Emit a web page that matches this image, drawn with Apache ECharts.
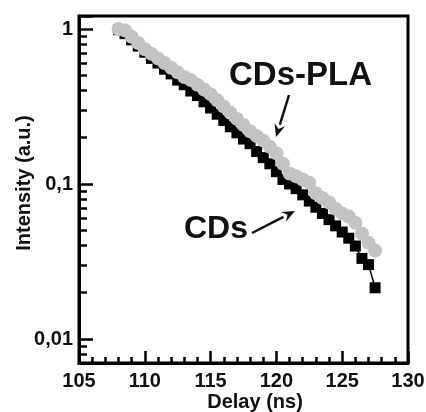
<!DOCTYPE html>
<html><head><meta charset="utf-8">
<script src="https://cdn.jsdelivr.net/npm/echarts@6/dist/echarts.min.js"></script>
<style>html,body{margin:0;padding:0;background:#fff}#c{width:426px;height:412px}</style>
</head><body><div id="c"></div>
<script>
// Delay (ns)
const delay = [108,108.5,109,109.5,110,110.5,111,111.5,112,112.5,113,113.5,114,114.5,115,115.5,116,116.5,117,117.5,118,118.5,119,119.5,120,120.5,121,121.5,122,122.5,123,123.5,124,124.5,125,125.5,126,126.5,127,127.5];
// CDs-PLA (grey circles)
const cdsPla = [1.00,0.977,0.891,0.813,0.741,0.692,0.646,0.603,0.562,0.525,0.490,0.468,0.437,0.407,0.380,0.347,0.316,0.288,0.263,0.240,0.219,0.204,0.191,0.174,0.158,0.135,0.117,0.112,0.107,0.102,0.0871,0.0813,0.0759,0.0692,0.0646,0.0617,0.0562,0.0479,0.0417,0.0372];
// CDs (black squares)
const cds = [0.99,0.933,0.851,0.776,0.708,0.646,0.603,0.550,0.513,0.468,0.437,0.398,0.372,0.339,0.309,0.282,0.257,0.234,0.214,0.195,0.182,0.162,0.148,0.135,0.120,0.107,0.100,0.0933,0.0851,0.0776,0.0708,0.0646,0.0589,0.0537,0.0490,0.0447,0.0398,0.0331,0.0302,0.0214];
const yMajorTicks = [0.01, 0.1, 1];
const yMinorTicks = [0.008,0.009,0.02,0.03,0.04,0.05,0.06,0.07,0.08,0.09,0.2,0.3,0.4,0.5,0.6,0.7,0.8,0.9];
const xTitle = 'Delay (ns)';
const yTitle = 'Intensity (a.u.)';
const labelPla = 'CDs-PLA';
const labelCds = 'CDs';

const FONT = 'Liberation Sans, Arial, sans-serif';
const TXT = '#111';
const chart = echarts.init(document.getElementById('c'), null, {renderer: 'canvas'});

function arrow(x1, y1, x2, y2) {
  const a = Math.atan2(y2 - y1, x2 - x1), L = 13, W = 5.5;
  const bx = x2 - L * Math.cos(a), by = y2 - L * Math.sin(a);
  const px = -Math.sin(a) * W, py = Math.cos(a) * W;
  return [
    {type: 'line', shape: {x1: x1, y1: y1, x2: bx, y2: by}, style: {stroke: '#111', lineWidth: 2.5}, z: 10},
    {type: 'polygon', shape: {points: [[x2, y2], [bx + px, by + py], [bx + 0.35*L*Math.cos(a), by + 0.35*L*Math.sin(a)], [bx - px, by - py]]}, style: {fill: '#111'}, z: 10}
  ];
}

chart.setOption({
  animation: false,
  grid: {left: 79, right: 18, top: 16, bottom: 49, outerBoundsMode: 'none', containLabel: false,
    show: true, borderColor: '#000', borderWidth: 3, backgroundColor: 'transparent'},
  xAxis: {
    type: 'value', min: 105, max: 130, interval: 5,
    name: xTitle, nameLocation: 'middle', nameGap: 29, nameMoveOverlap: false,
    nameTextStyle: {fontFamily: FONT, fontWeight: 'bold', fontSize: 20, color: TXT, padding: [0, 0, 0, 23]},
    axisLine: {show: true, lineStyle: {color: '#000', width: 3}},
    axisTick: {show: true, inside: true, length: 12, lineStyle: {color: '#000', width: 2.5}},
    minorTick: {show: true, splitNumber: 5, length: 6, lineStyle: {color: '#000', width: 2.5}},
    axisLabel: {fontFamily: FONT, fontWeight: 'bold', fontSize: 20, color: TXT, margin: 8},
    splitLine: {show: false}
  },
  yAxis: [{
    type: 'log', logBase: 10, min: 0.007, max: 1.213,
    name: yTitle, nameLocation: 'middle', nameGap: 45, nameRotate: 90, nameMoveOverlap: false,
    nameTextStyle: {fontFamily: FONT, fontWeight: 'bold', fontSize: 20, color: TXT, padding: [0, 0, 0, 13]},
    axisLine: {show: true, lineStyle: {color: '#000', width: 3}},
    axisTick: {show: true, inside: true, length: 14, lineStyle: {color: '#000', width: 2.5}},
    axisLabel: {fontFamily: FONT, fontWeight: 'bold', fontSize: 20, color: TXT, margin: 6, customValues: yMajorTicks,
      formatter: v => String(v).replace('.', ',')},
    splitLine: {show: false}
  }, {
    type: 'log', logBase: 10, min: 0.007, max: 1.213, position: 'left',
    axisLine: {show: false},
    axisTick: {show: true, inside: true, length: 8, customValues: yMinorTicks, lineStyle: {color: '#000', width: 2.5}},
    axisLabel: {show: false},
    splitLine: {show: false}
  }],
  series: [{
    name: labelCds, type: 'line', data: delay.map((d, i) => [d, cds[i]]),
    symbol: 'rect', symbolSize: 11, showAllSymbol: true,
    itemStyle: {color: '#000'}, lineStyle: {color: '#000', width: 1.5}, z: 2
  }, {
    name: labelPla, type: 'scatter', data: delay.map((d, i) => [d, cdsPla[i]]),
    symbol: 'circle', symbolSize: 14, itemStyle: {color: '#c3c3c3', opacity: 1}, z: 3
  }],
  graphic: [
    {type: 'text', left: 229, top: 59, z: 10, style: {text: labelPla, font: 'bold 33px ' + FONT, fill: TXT}},
    {type: 'text', left: 184, top: 213, z: 10, style: {text: labelCds, font: 'bold 32px ' + FONT, fill: TXT}},
    ...arrow(289, 95, 276, 137),
    ...arrow(252, 233, 295, 211)
  ]
});
</script></body></html>
